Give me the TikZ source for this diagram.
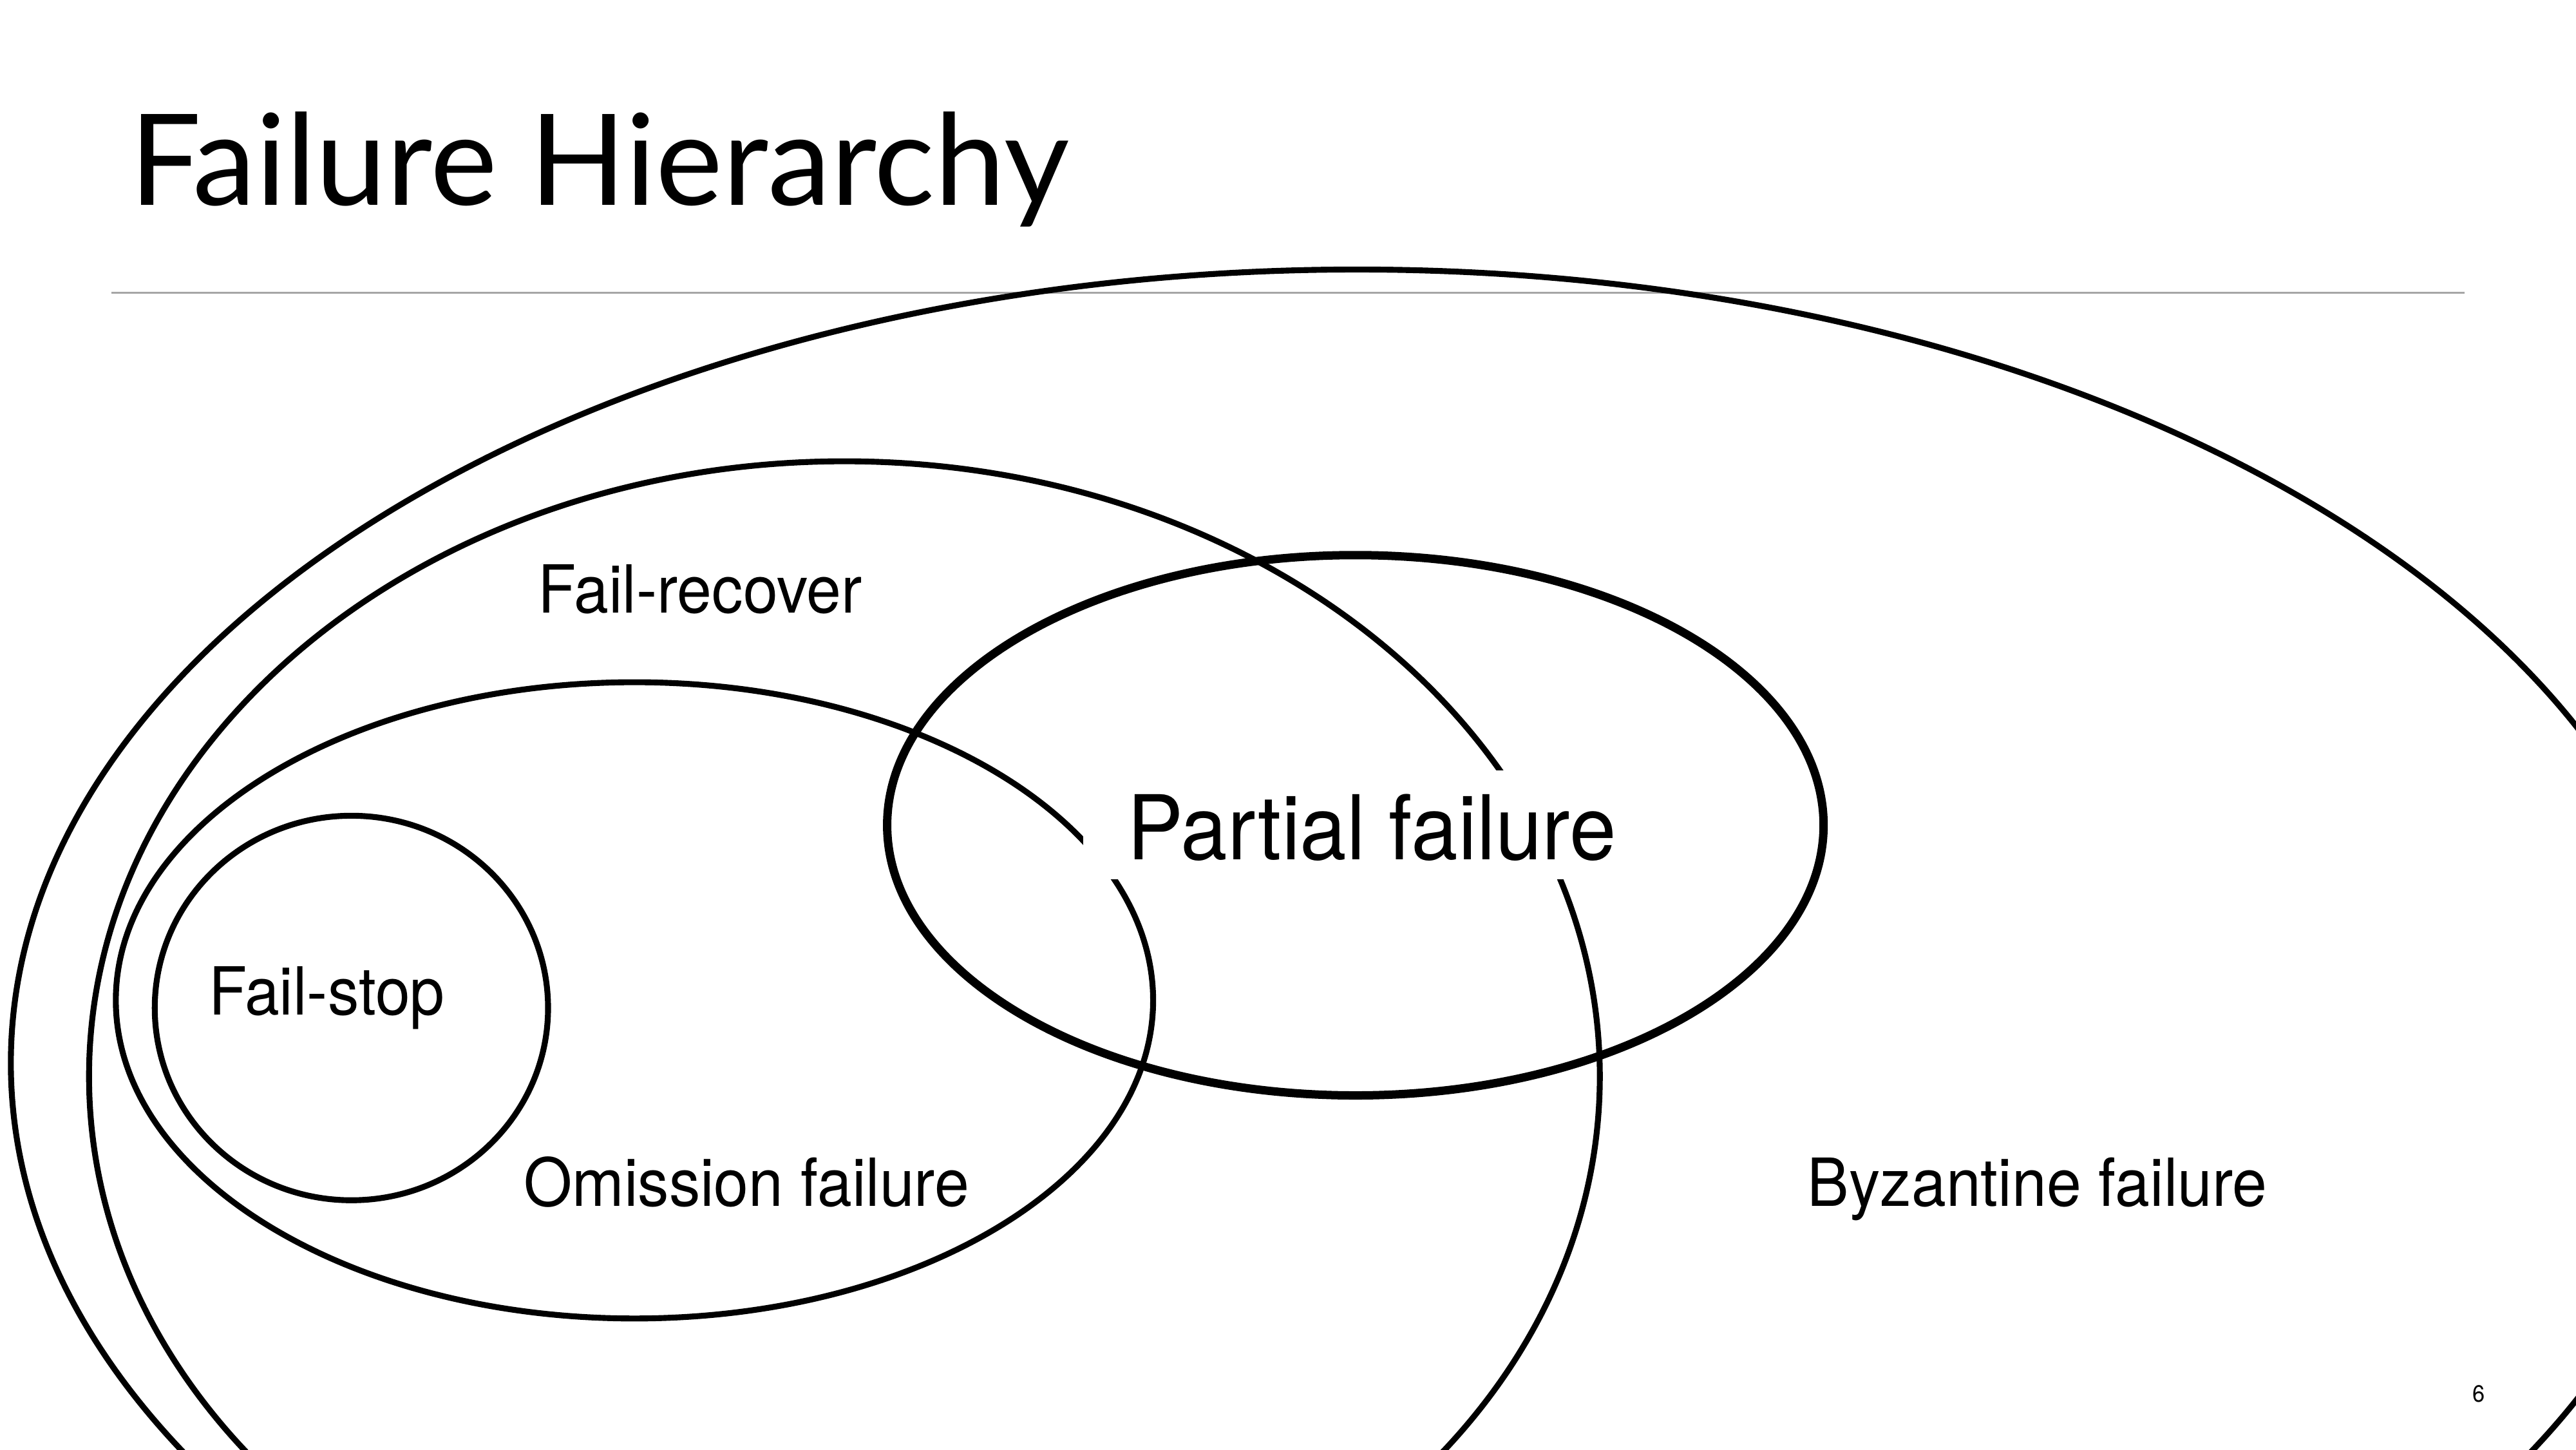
\documentclass[tikz,border=0pt]{standalone}
\usepackage{fontspec}
\setmainfont{TeX Gyre Heros}[FakeStretch=0.94]
\newfontfamily\titlefont{Lato}
\begin{document}
\begin{tikzpicture}[x=0.02551cm, y=-0.02551cm,
    ring/.style={line width=2.6pt},
    setname/.style={anchor=base west, inner sep=0pt, font=\fontsize{29.3}{32}\selectfont}]
    \useasboundingbox (0,0) rectangle (1568,882);

    % title and rule
    \node[anchor=base west, inner sep=0pt, font=\titlefont\fontsize{56}{60}\selectfont] (title) at (78.8,125) {Failure Hierarchy};
    \draw[line width=0.85pt, black!35] (68,178) -- (1500,178);

    % nested failure classes
    \begin{scope}
    \clip (0,0) rectangle (1568,882);
    \draw[ring] (826,647) ellipse [x radius=819.4, y radius=483];
    \draw[ring] (514,655) ellipse [x radius=459.8, y radius=374.3];
    \draw[ring] (386.2,608.75) ellipse [x radius=315.7, y radius=193.6];
    \draw[ring] (213.9,613.4) ellipse [x radius=119.7, y radius=117];
    \end{scope}

    \node[setname] (failrecover) at (327.4,373.1) {Fail-recover};
    \node[setname] (failstop) at (126.9,617.4) {Fail-stop};
    \node[setname] (omission) at (318.5,734.1) {Omission failure};
    \node[setname] (byzantine) at (1100,734.1) {Byzantine failure};

    % partial failure cuts across the others
    \node[setname, fill=white, inner xsep=0.69cm, inner ysep=0.3cm, text height=1.085cm, text depth=0pt,
        font=\fontsize{39.5}{42}\selectfont] (partial) at (659,523.3) {Partial failure};
    \draw[line width=3.7pt] (825,502.2) ellipse [x radius=285, y radius=164.4];

    \node[anchor=base, inner sep=0pt, font=\fontsize{10.4}{12}\selectfont] (pagenum) at (1509,853) {6};
\end{tikzpicture}
\end{document}
